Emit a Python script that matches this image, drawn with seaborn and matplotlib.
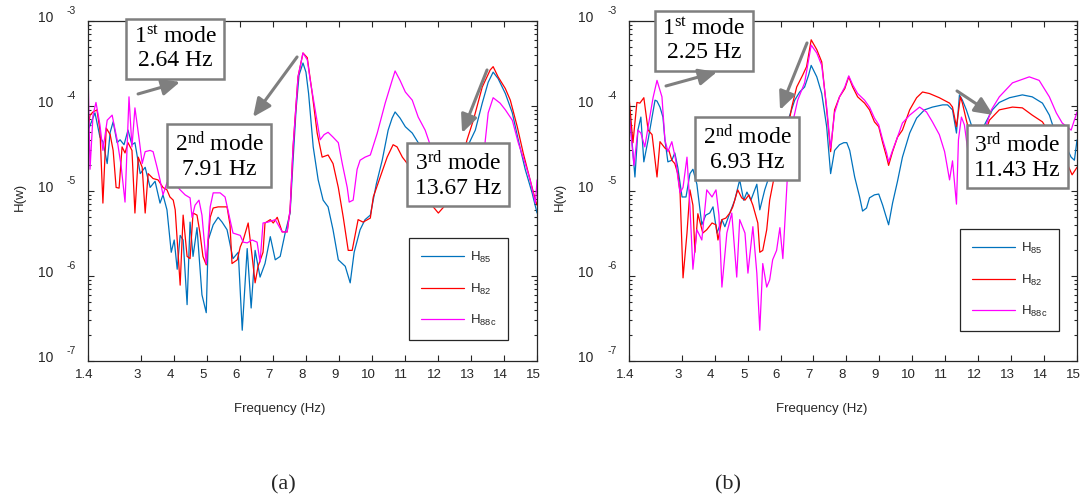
import numpy as np
import pandas as pd
import matplotlib
matplotlib.use("Agg")
import matplotlib.pyplot as plt
import matplotlib.transforms as mtransforms
from matplotlib.ticker import NullLocator, LogLocator
import seaborn as sns

# ---------------- data: panel (a) ----------------
FREQ_A_85 = [1.40, 1.43, 1.61, 1.76, 1.85, 1.98, 2.07, 2.16, 2.28, 2.37, 2.49, 2.61, 2.73, 2.82, 2.98,
             3.13, 3.28, 3.43, 3.58, 3.67, 3.79, 3.92, 4.01, 4.10, 4.19, 4.28, 4.40, 4.49, 4.58, 4.70,
             4.85, 4.98, 5.04, 5.19, 5.34, 5.46, 5.61, 5.79, 5.95, 6.07, 6.22, 6.34, 6.46, 6.61, 6.76,
             6.92, 7.07, 7.22, 7.37, 7.52, 7.61, 7.70, 7.79, 7.91, 8.00, 8.08, 8.22, 8.37, 8.52, 8.67,
             8.82, 8.98, 9.19, 9.34, 9.46, 9.64, 9.79, 9.95, 10.13, 10.31, 10.49, 10.61, 10.70, 10.85,
             11.01, 11.22, 11.40, 11.61, 11.82, 12.07, 12.31, 12.52, 12.73, 12.92, 13.13, 13.34, 13.52,
             13.67, 13.82, 14.04, 14.25, 14.43, 14.64, 14.85, 15.00]
H_A_85 = [8.3e-5, 5.5e-5, 8.3e-5, 4.3e-5, 3.8e-5, 2.1e-5, 4.9e-5, 6.5e-5, 3.7e-5, 4.0e-5, 3.5e-5, 5.2e-5,
          3.5e-5, 3.7e-5, 1.6e-5, 1.9e-5, 1.1e-5, 1.3e-5, 7.2e-6, 9.0e-6, 6.0e-6, 1.9e-6, 2.65e-6,
          1.2e-6, 3.0e-6, 2.65e-6, 4.6e-7, 4.3e-6, 1.7e-6, 3.7e-6, 6.0e-7, 3.7e-7, 2.65e-6, 4.0e-6,
          4.9e-6, 4.3e-6, 3.5e-6, 1.6e-6, 1.9e-6, 2.3e-7, 2.1e-6, 4.2e-7, 2.0e-6, 9.7e-7, 1.4e-6,
          2.9e-6, 1.55e-6, 1.7e-6, 3.2e-6, 5.5e-6, 2.3e-5, 9.0e-5, 2.3e-4, 3.2e-4, 2.5e-4, 1.4e-4,
          3.3e-5, 1.35e-5, 7.8e-6, 6.5e-6, 3.5e-6, 1.55e-6, 1.3e-6, 8.3e-7, 1.9e-6, 3.5e-6, 4.6e-6,
          5.2e-6, 1.2e-5, 2.3e-5, 5.2e-5, 7.2e-5, 8.5e-5, 7.2e-5, 5.7e-5, 4.8e-5, 3.7e-5, 3.0e-5,
          2.0e-5, 1.35e-5, 1.2e-5, 1.55e-5, 2.3e-5, 3.5e-5, 5.2e-5, 1.08e-4, 1.9e-4, 2.5e-4, 2.1e-4,
          1.4e-4, 8.3e-5, 4.0e-5, 1.8e-5, 9.5e-6, 5.5e-6]

FREQ_A_82 = [1.40, 1.46, 1.55, 1.67, 1.76, 1.85, 1.95, 2.07, 2.16, 2.25, 2.34, 2.43, 2.52, 2.61, 2.73,
             2.82, 2.92, 3.04, 3.13, 3.22, 3.37, 3.52, 3.67, 3.79, 3.88, 3.98, 4.04, 4.10, 4.19, 4.28,
             4.40, 4.49, 4.58, 4.70, 4.79, 4.88, 4.98, 5.10, 5.19, 5.34, 5.61, 5.70, 5.76, 5.92, 6.01,
             6.10, 6.25, 6.37, 6.46, 6.55, 6.70, 6.76, 6.92, 7.01, 7.13, 7.28, 7.43, 7.52, 7.61, 7.76,
             7.91, 8.04, 8.19, 8.34, 8.49, 8.67, 8.82, 8.98, 9.13, 9.28, 9.40, 9.58, 9.73, 9.95, 10.04,
             10.25, 10.46, 10.64, 10.76, 10.92, 11.07, 11.31, 11.52, 11.76, 12.01, 12.22, 12.43, 12.67,
             12.88, 13.07, 13.34, 13.58, 13.67, 13.82, 14.04, 14.19, 14.40, 14.58, 14.79, 14.95, 15.00]
H_A_82 = [5.7e-5, 7.8e-5, 8.5e-5, 9.0e-5, 5.2e-5, 7.2e-6, 5.5e-5, 4.6e-5, 3.0e-5, 1.1e-5, 1.08e-5,
          3.3e-5, 2.8e-5, 3.7e-5, 3.0e-5, 5.5e-6, 2.5e-5, 1.9e-5, 5.5e-6, 1.6e-5, 1.4e-5, 1.35e-5,
          1.1e-5, 1.03e-5, 8.5e-6, 7.8e-6, 6.0e-6, 2.65e-6, 7.8e-7, 5.2e-6, 1.7e-6, 1.6e-6, 5.5e-6,
          5.2e-6, 3.2e-6, 1.7e-6, 1.35e-6, 4.9e-6, 6.3e-6, 6.5e-6, 6.5e-6, 4.0e-6, 1.4e-6, 1.55e-6,
          2.2e-6, 2.65e-6, 4.2e-6, 1.7e-6, 8.3e-7, 1.3e-6, 1.9e-6, 4.2e-6, 4.6e-6, 4.2e-6, 4.9e-6,
          3.3e-6, 3.3e-6, 6.0e-6, 3.3e-5, 2.2e-4, 4.2e-4, 3.7e-4, 1.4e-4, 4.8e-5, 2.5e-5, 2.65e-5,
          2.1e-5, 1.1e-5, 4.9e-6, 2.0e-6, 2.0e-6, 4.6e-6, 4.3e-6, 4.8e-6, 8.5e-6, 1.46e-5, 2.5e-5,
          3.5e-5, 3.3e-5, 2.5e-5, 2.1e-5, 1.8e-5, 1.2e-5, 7.2e-6, 5.5e-6, 6.8e-6, 1.03e-5, 2.0e-5,
          4.0e-5, 6.8e-5, 1.67e-4, 2.65e-4, 2.9e-4, 2.2e-4, 1.6e-4, 1.17e-4, 5.7e-5, 2.8e-5, 1.35e-5,
          7.8e-6, 6.8e-6]

FREQ_A_88C = [1.40, 1.46, 1.55, 1.64, 1.76, 1.85, 1.98, 2.13, 2.28, 2.40, 2.52, 2.64, 2.73, 2.82, 2.95,
              3.04, 3.13, 3.28, 3.37, 3.49, 3.58, 3.67, 3.79, 3.88, 4.04, 4.19, 4.34, 4.49, 4.55, 4.64,
              4.76, 4.85, 4.98, 5.10, 5.19, 5.31, 5.40, 5.55, 5.70, 5.79, 6.01, 6.10, 6.22, 6.37, 6.52,
              6.61, 6.70, 6.85, 7.07, 7.28, 7.43, 7.52, 7.61, 7.76, 7.91, 8.04, 8.13, 8.28, 8.43, 8.55,
              8.67, 8.82, 8.98, 9.10, 9.25, 9.31, 9.43, 9.55, 9.64, 9.79, 9.95, 10.16, 10.40, 10.61,
              10.70, 10.85, 11.01, 11.22, 11.40, 11.61, 11.82, 12.07, 12.37, 12.61, 12.82, 13.04, 13.22,
              13.40, 13.52, 13.67, 13.88, 14.04, 14.25, 14.43, 14.64, 14.79, 14.95, 15.00]
H_A_88C = [2.45e-4, 1.8e-5, 7.8e-5, 1.1e-4, 6.0e-5, 3.0e-5, 6.8e-5, 7.8e-5, 4.0e-5, 2.0e-5, 7.4e-6,
           1.28e-4, 3.3e-5, 9.5e-5, 4.0e-5, 2.1e-5, 2.9e-5, 3.0e-5, 2.9e-5, 1.9e-5, 1.35e-5, 9.0e-6,
           1.25e-5, 1.35e-5, 1.2e-5, 1.03e-5, 9.0e-6, 8.3e-6, 4.9e-6, 6.8e-6, 7.8e-6, 5.2e-6, 1.4e-6,
           6.5e-6, 9.5e-6, 9.5e-6, 9.5e-6, 8.5e-6, 4.6e-6, 3.2e-6, 3.0e-6, 2.5e-6, 2.45e-6, 2.65e-6,
           2.5e-6, 1.46e-6, 4.2e-6, 4.3e-6, 4.6e-6, 3.3e-6, 3.3e-6, 6.0e-6, 3.3e-5, 2.2e-4, 4.2e-4,
           3.5e-4, 2.0e-4, 9.0e-5, 4.0e-5, 4.6e-5, 4.9e-5, 4.3e-5, 3.7e-5, 2.1e-5, 1.1e-5, 7.4e-6,
           7.8e-6, 1.8e-5, 2.3e-5, 2.5e-5, 2.65e-5, 4.8e-5, 1.08e-4, 2.0e-4, 2.58e-4, 2.0e-4, 1.46e-4,
           1.17e-4, 7.4e-5, 5.2e-5, 3.0e-5, 1.55e-5, 7.8e-6, 6.8e-6, 7.8e-6, 1.35e-5, 2.3e-5, 3.0e-5,
           8.3e-5, 1.25e-4, 1.08e-4, 9.0e-5, 6.8e-5, 3.7e-5, 2.1e-5, 1.35e-5, 7.2e-6, 1.35e-5]

# ---------------- data: panel (b) ----------------
FREQ_B_85 = [1.40, 1.58, 1.67, 1.76, 1.85, 1.98, 2.10, 2.19, 2.25, 2.34, 2.43, 2.49, 2.58, 2.70, 2.79,
             2.88, 3.01, 3.13, 3.25, 3.34, 3.46, 3.61, 3.73, 3.85, 3.95, 4.07, 4.22, 4.31, 4.46, 4.61,
             4.76, 4.88, 4.98, 5.10, 5.28, 5.37, 5.52, 5.67, 5.82, 5.98, 6.13, 6.28, 6.43, 6.58, 6.73,
             6.85, 6.93, 7.10, 7.25, 7.40, 7.52, 7.64, 7.79, 7.92, 8.01, 8.10, 8.25, 8.40, 8.49, 8.61,
             8.70, 8.85, 8.98, 9.10, 9.19, 9.28, 9.40, 9.55, 9.70, 9.92, 10.13, 10.37, 10.61, 10.92,
             11.07, 11.22, 11.34, 11.43, 11.52, 11.64, 11.79, 11.98, 12.19, 12.43, 12.64, 12.95, 13.34,
             13.64, 13.95, 14.16, 14.31, 14.52, 14.67, 14.82, 14.92, 15.00]
H_B_85 = [1.03e-4, 1.46e-5, 5.2e-5, 7.4e-5, 2.2e-5, 4.0e-5, 7.4e-5, 1.17e-4, 1.14e-4, 9.7e-5, 7.4e-5,
          4.0e-5, 2.2e-5, 2.3e-5, 2.8e-5, 1.9e-5, 8.5e-6, 8.5e-6, 1.6e-5, 1.8e-5, 1.2e-5, 4.0e-6,
          5.2e-6, 5.5e-6, 6.5e-6, 3.2e-6, 4.6e-6, 3.8e-6, 5.5e-6, 7.8e-6, 1.35e-5, 7.8e-6, 9.7e-6,
          7.8e-6, 1.2e-5, 6.0e-6, 1.03e-5, 1.55e-5, 2.3e-5, 3.0e-5, 5.2e-5, 7.8e-5, 1.17e-4, 1.46e-4,
          1.67e-4, 2.3e-4, 3.0e-4, 2.2e-4, 1.4e-4, 5.7e-5, 1.6e-5, 3.0e-5, 3.5e-5, 3.7e-5, 3.7e-5,
          3.0e-5, 1.46e-5, 8.5e-6, 5.8e-6, 6.3e-6, 8.3e-6, 9.0e-6, 9.2e-6, 6.8e-6, 5.2e-6, 4.0e-6,
          7.2e-6, 1.3e-5, 2.5e-5, 4.8e-5, 7.2e-5, 9.0e-5, 9.7e-5, 1.03e-4, 1.03e-4, 9.0e-5, 4.8e-5,
          1.35e-4, 1.17e-4, 9.0e-5, 6.0e-5, 4.6e-5, 6.0e-5, 9.0e-5, 1.1e-4, 1.25e-4, 1.35e-4, 1.28e-4,
          1.08e-4, 7.8e-5, 5.2e-5, 3.5e-5, 3.3e-5, 2.5e-5, 2.3e-5, 4.0e-5]

FREQ_B_82 = [1.40, 1.52, 1.64, 1.73, 1.85, 1.98, 2.10, 2.25, 2.34, 2.49, 2.61, 2.70, 2.79, 2.88, 2.95,
             3.04, 3.16, 3.25, 3.34, 3.40, 3.49, 3.64, 3.76, 3.92, 4.04, 4.10, 4.22, 4.34, 4.46, 4.55,
             4.70, 4.82, 4.92, 5.04, 5.16, 5.31, 5.37, 5.46, 5.58, 5.67, 5.82, 5.98, 6.07, 6.19, 6.34,
             6.49, 6.67, 6.79, 6.93, 7.10, 7.25, 7.40, 7.52, 7.64, 7.79, 7.95, 8.07, 8.19, 8.34, 8.55,
             8.70, 8.85, 8.98, 9.10, 9.22, 9.28, 9.40, 9.55, 9.70, 9.92, 10.13, 10.31, 10.52, 10.82,
             11.13, 11.22, 11.34, 11.46, 11.52, 11.64, 11.79, 11.98, 12.19, 12.34, 12.64, 13.04, 13.34,
             13.64, 13.95, 14.16, 14.37, 14.55, 14.70, 14.85, 15.00]
H_B_82 = [1.28e-4, 3.7e-5, 1.1e-4, 1.08e-4, 1.25e-4, 5.2e-5, 4.6e-5, 1.46e-5, 3.8e-5, 3.2e-5, 3.0e-5,
          2.3e-5, 2.1e-5, 1.6e-5, 9.5e-6, 9.5e-7, 3.2e-6, 1.03e-5, 6.8e-6, 1.9e-6, 5.4e-6, 3.2e-6,
          3.5e-6, 4.2e-6, 4.0e-6, 2.65e-6, 4.6e-6, 4.8e-6, 5.5e-6, 6.5e-6, 1.03e-5, 8.3e-6, 7.8e-6,
          9.0e-6, 6.8e-6, 4.2e-6, 1.9e-6, 2.0e-6, 3.5e-6, 7.8e-6, 1.55e-5, 2.3e-5, 1.35e-5, 4.6e-5,
          9.7e-5, 1.67e-4, 2.3e-4, 2.9e-4, 6.0e-4, 4.6e-4, 3.3e-4, 9.0e-5, 2.9e-5, 9.0e-5, 1.28e-4,
          1.6e-4, 2.2e-4, 1.67e-4, 1.28e-4, 1.08e-4, 9.0e-5, 6.5e-5, 5.7e-5, 3.7e-5, 2.5e-5, 2.0e-5,
          2.9e-5, 4.3e-5, 5.2e-5, 9.0e-5, 1.25e-4, 1.46e-4, 1.4e-4, 1.25e-4, 1.08e-4, 9.7e-5, 5.7e-5,
          1.28e-4, 1.08e-4, 6.8e-5, 4.0e-5, 3.0e-5, 4.6e-5, 6.8e-5, 9.0e-5, 9.7e-5, 9.5e-5, 7.8e-5,
          6.5e-5, 4.8e-5, 3.5e-5, 2.5e-5, 2.1e-5, 1.55e-5, 1.9e-5]

FREQ_B_88C = [1.40, 1.55, 1.67, 1.76, 1.88, 1.98, 2.13, 2.25, 2.40, 2.49, 2.58, 2.70, 2.82, 2.88, 2.95,
              3.04, 3.16, 3.25, 3.34, 3.46, 3.61, 3.76, 3.92, 4.04, 4.13, 4.22, 4.37, 4.52, 4.67, 4.76,
              4.92, 5.01, 5.16, 5.28, 5.37, 5.46, 5.58, 5.67, 5.76, 5.88, 5.98, 6.07, 6.22, 6.34, 6.52,
              6.73, 6.93, 7.10, 7.25, 7.40, 7.52, 7.64, 7.79, 7.95, 8.07, 8.19, 8.34, 8.55, 8.70, 8.85,
              8.98, 9.10, 9.22, 9.28, 9.40, 9.55, 9.70, 9.92, 10.22, 10.43, 10.61, 10.82, 10.98, 11.13,
              11.22, 11.34, 11.40, 11.49, 11.58, 11.67, 11.79, 11.98, 12.19, 12.40, 12.64, 13.04, 13.55,
              13.85, 14.16, 14.37, 14.55, 14.82, 15.00]
H_B_88C = [8.3e-5, 2.0e-5, 5.2e-5, 4.8e-5, 3.3e-5, 5.7e-5, 1.25e-4, 2.0e-4, 1.28e-4, 4.0e-5, 2.9e-5,
           3.8e-5, 2.3e-5, 1.46e-5, 9.5e-6, 1.1e-5, 2.5e-5, 6.5e-6, 1.2e-6, 3.5e-6, 2.65e-6, 1.03e-5,
           8.5e-6, 1.03e-5, 5.2e-6, 7.4e-7, 3.2e-6, 5.5e-6, 9.7e-7, 4.6e-6, 3.2e-6, 1.08e-6, 3.8e-6,
           1.08e-6, 2.3e-7, 1.4e-6, 7.4e-7, 9.0e-7, 1.55e-6, 2.0e-6, 3.7e-6, 1.6e-6, 1.8e-5, 5.7e-5,
           1.17e-4, 1.87e-4, 5.2e-4, 4.2e-4, 3.0e-4, 9.7e-5, 3.2e-5, 8.3e-5, 1.28e-4, 1.67e-4, 2.26e-4,
           1.77e-4, 1.4e-4, 1.17e-4, 9.7e-5, 7.2e-5, 6.0e-5, 4.0e-5, 2.8e-5, 2.2e-5, 3.0e-5, 4.3e-5,
           6.3e-5, 7.8e-5, 9.7e-5, 8.5e-5, 6.5e-5, 4.6e-5, 2.9e-5, 1.35e-5, 2.26e-5, 7.0e-6, 4.0e-5,
           7.4e-5, 6.0e-5, 3.3e-5, 1.55e-5, 2.3e-5, 5.2e-5, 9.0e-5, 1.28e-4, 1.87e-4, 2.2e-4, 2.0e-4,
           1.28e-4, 8.3e-5, 6.3e-5, 5.2e-5, 8.5e-5]

SERIES_LABELS = ["85", "82", "88c"]
SERIES_COLORS = ["#0072BD", "#FF0000", "#FF00FF"]

X_TICKS = [1.4, 3, 4, 5, 6, 7, 8, 9, 10, 11, 12, 13, 14, 15]
X_TICK_LABELS = ["1.4", "3", "4", "5", "6", "7", "8", "9", "10", "11", "12", "13", "14", "15"]
Y_EXPONENTS = [-7, -6, -5, -4, -3]

MODES_A = [("1", "st", "2.64"), ("2", "nd", "7.91"), ("3", "rd", "13.67")]
MODES_B = [("1", "st", "2.25"), ("2", "nd", "6.93"), ("3", "rd", "11.43")]

# ---------------- style ----------------
sns.set_style("ticks")
plt.rcParams["font.family"] = ["Liberation Sans", "DejaVu Sans"]
plt.rcParams["mathtext.default"] = "regular"
INK = "#262626"
SERIF = ["Liberation Serif", "DejaVu Serif"]

fig = plt.figure(figsize=(10.83, 4.99), dpi=100)
ax_a = fig.add_axes([0.0813, 0.2766, 0.4146, 0.6814])
ax_b = fig.add_axes([0.5808, 0.2766, 0.4137, 0.6814])


def draw_panel(ax, freqs, values):
    for f, h, lab, col in zip(freqs, values, SERIES_LABELS, SERIES_COLORS):
        df = pd.DataFrame({"Frequency": f, "H": h})
        sns.lineplot(data=df, x="Frequency", y="H", ax=ax, color=col, lw=0.9,
                     estimator=None, sort=False, label=r"H$_{%s}$" % lab)
    ax.set_yscale("log")
    ax.set_xlim(1.4, 15)
    ax.set_ylim(1e-7, 1e-3)
    ax.set_xticks(X_TICKS)
    ax.set_xticklabels(X_TICK_LABELS)
    ax.xaxis.set_minor_locator(NullLocator())
    ax.set_yticks([10.0 ** e for e in Y_EXPONENTS])
    ax.yaxis.set_minor_locator(LogLocator(base=10, subs=np.arange(2, 10)))
    ax.set_yticklabels([])
    ax.tick_params(axis="both", which="both", direction="in", top=True, right=True,
                   color=INK, labelcolor=INK, width=0.8)
    ax.tick_params(axis="both", which="major", length=4.5, labelsize=9.5, pad=6)
    ax.tick_params(axis="y", which="minor", length=2.5)
    for sp in ax.spines.values():
        sp.set_color(INK)
        sp.set_linewidth(0.9)
    ax.set_xlabel("")
    ax.set_ylabel("")
    # shift x tick labels slightly left
    shift = mtransforms.ScaledTranslation(-4 / 100, 0, fig.dpi_scale_trans)
    for lbl in ax.get_xticklabels():
        lbl.set_transform(lbl.get_transform() + shift)


def y_labels(ax, x_base, x_exp):
    trans = ax.get_yaxis_transform()
    up_base = mtransforms.ScaledTranslation(0, 3 / 100, fig.dpi_scale_trans)
    up_exp = mtransforms.ScaledTranslation(0, 10 / 100, fig.dpi_scale_trans)
    for e in Y_EXPONENTS:
        ax.text(x_base, 10.0 ** e, "10", transform=trans + up_base, ha="center", va="center",
                fontsize=10, color=INK)
        ax.text(x_exp, 10.0 ** e, "%d" % e, transform=trans + up_exp, ha="left", va="center",
                fontsize=7.5, color=INK)


def mode_boxes(ax, modes, centers, arrows):
    for (n, suf, hz), (cx, cy) in zip(modes, centers):
        ax.text(cx, cy, "%s$^{%s}$ mode\n%s Hz" % (n, suf, hz), transform=ax.transAxes,
                ha="center", va="center", fontsize=17, family=SERIF, color="black",
                linespacing=1.15, zorder=6,
                bbox=dict(boxstyle="square,pad=0.32", fc="white", ec="#7f7f7f", lw=1.8))
    for tail, head in arrows:
        ax.annotate("", xy=head, xytext=tail, xycoords="axes fraction", textcoords="axes fraction",
                    arrowprops=dict(arrowstyle="-|>,head_length=1.1,head_width=0.5",
                                    color="#7f7f7f", lw=2.2, shrinkA=0, shrinkB=0),
                    zorder=7, annotation_clip=False)


def legend(ax, anchor):
    ax.legend(loc="upper left", bbox_to_anchor=anchor, borderaxespad=0, frameon=True,
              fancybox=False, edgecolor=INK, framealpha=1, fontsize=9.5, handlelength=3.3,
              handletextpad=0.4, labelspacing=1.25, borderpad=0.9)
    ax.get_legend().get_frame().set_linewidth(0.9)
    for t in ax.get_legend().get_texts():
        t.set_color(INK)


# panel (a)
draw_panel(ax_a, [FREQ_A_85, FREQ_A_82, FREQ_A_88C], [H_A_85, H_A_82, H_A_88C])
y_labels(ax_a, -0.0935, -0.049)
mode_boxes(ax_a, MODES_A,
           [(0.1938, 0.9176), (0.2918, 0.6029), (0.8241, 0.5471)],
           [((0.1114, 0.7853), (0.2049, 0.8206)),
            ((0.4655, 0.8941), (0.3675, 0.7176)),
            ((0.8886, 0.8559), (0.8330, 0.6706))])
legend(ax_a, (0.7149, 0.3618))
ax_a.text(0.4276, -0.141, "Frequency (Hz)", transform=ax_a.transAxes, ha="center", va="center",
          fontsize=9.5, color=INK)
ax_a.text(-0.151, 0.482, "H(w)", transform=ax_a.transAxes, ha="center", va="center",
          rotation=90, fontsize=9.5, color=INK)

# panel (b)
draw_panel(ax_b, [FREQ_B_85, FREQ_B_82, FREQ_B_88C], [H_B_85, H_B_82, H_B_88C])
y_labels(ax_b, -0.096, -0.049)
mode_boxes(ax_b, MODES_B,
           [(0.1674, 0.9412), (0.2634, 0.6235), (0.8661, 0.6000)],
           [((0.0826, 0.8088), (0.1964, 0.8500)),
            ((0.3973, 0.9353), (0.3371, 0.7382)),
            ((0.7321, 0.7941), (0.8125, 0.7235))])
legend(ax_b, (0.7388, 0.3882))
ax_b.text(0.4308, -0.141, "Frequency (Hz)", transform=ax_b.transAxes, ha="center", va="center",
          fontsize=9.5, color=INK)
ax_b.text(-0.154, 0.482, "H(w)", transform=ax_b.transAxes, ha="center", va="center",
          rotation=90, fontsize=9.5, color=INK)

fig.text(0.2613, 0.028, "(a)", ha="center", va="center", fontsize=16, family=SERIF)
fig.text(0.6722, 0.028, "(b)", ha="center", va="center", fontsize=16, family=SERIF)

fig.savefig("out.png", dpi=100)
